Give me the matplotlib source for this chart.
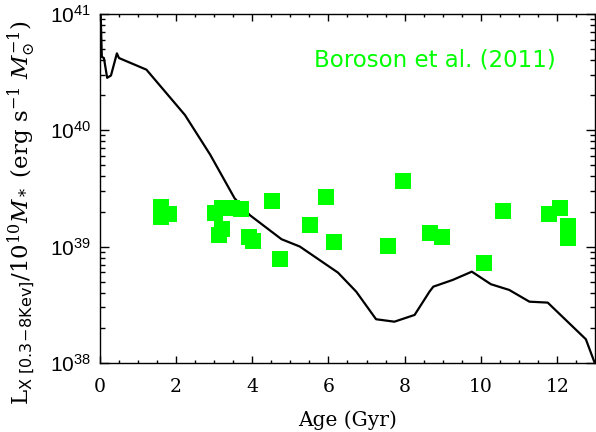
import matplotlib
matplotlib.use("Agg")
import matplotlib.pyplot as plt
from matplotlib.ticker import MultipleLocator, LogLocator, NullFormatter, FixedLocator, FixedFormatter
import numpy as np

# Model curve (age in Gyr, log10 Lx/M)
model_age = [0.03, 0.06, 0.115, 0.20, 0.30, 0.455, 0.51, 1.23, 2.24, 2.90, 3.54, 3.94,
             4.77, 5.25, 6.25, 6.73, 7.25, 7.73, 8.26, 8.65, 8.75, 9.26, 9.76,
             10.26, 10.74, 11.27, 11.75, 12.75, 12.97]
model_log = [41.0, 40.63, 40.62, 40.45, 40.47, 40.66, 40.62, 40.52, 40.13, 39.79, 39.415, 39.27,
             39.063, 39.0, 38.776, 38.612, 38.375, 38.354, 38.412, 38.612, 38.655, 38.713, 38.784,
             38.676, 38.627, 38.526, 38.518, 38.203, 38.01]

# Boroson et al. (2011) data points
obs_age = [1.62, 1.62, 1.82, 3.03, 3.22, 3.22, 3.13, 3.48, 3.72, 3.93, 4.03, 4.53, 4.74,
           5.53, 5.95, 6.14, 7.95, 7.55, 8.66, 8.97, 10.08, 10.58, 11.79, 12.08, 12.29, 12.29]
obs_lx = [2.17e39, 1.79e39, 1.91e39, 1.95e39, 2.15e39, 1.42e39, 1.26e39, 2.15e39, 2.11e39,
          1.20e39, 1.11e39, 2.48e39, 7.8e38, 1.54e39, 2.68e39, 1.10e39, 3.68e39, 1.01e39,
          1.31e39, 1.21e39, 7.2e38, 2.03e39, 1.91e39, 2.15e39, 1.51e39, 1.19e39]

xticks = [0, 2, 4, 6, 8, 10, 12]
yticks = [1e38, 1e39, 1e40, 1e41]
ytick_labels = [r'$\mathregular{10^{38}}$', r'$\mathregular{10^{39}}$',
                r'$\mathregular{10^{40}}$', r'$\mathregular{10^{41}}$']

plt.rcParams['mathtext.fontset'] = 'dejavuserif'

fig = plt.figure(figsize=(5.96, 4.32), dpi=100)
ax = fig.add_axes([0.167, 0.160, 0.832, 0.808])

ax.plot(model_age, 10 ** np.array(model_log), color='black', lw=1.6, zorder=2)
ax.plot(obs_age, obs_lx, linestyle='none', marker='s', ms=12.2, color='#00ff00',
        markeredgewidth=0, zorder=3)

ax.set_yscale('log')
ax.set_xlim(0, 13)
ax.set_ylim(1e38, 1e41)

ax.xaxis.set_major_locator(FixedLocator(xticks))
ax.xaxis.set_minor_locator(MultipleLocator(0.5))
ax.yaxis.set_major_locator(FixedLocator(yticks))
ax.yaxis.set_major_formatter(FixedFormatter(ytick_labels))
ax.yaxis.set_minor_locator(LogLocator(base=10, subs=np.arange(2, 10)))
ax.yaxis.set_minor_formatter(NullFormatter())

ax.tick_params(axis='both', which='both', direction='in', top=True, right=True, width=1.0)
ax.tick_params(axis='x', which='major', length=5, pad=11)
ax.tick_params(axis='x', which='minor', length=2.5)
ax.tick_params(axis='y', which='major', length=6.5, pad=6)
ax.tick_params(axis='y', which='minor', length=3.5)

for lab in ax.get_xticklabels():
    lab.set_fontfamily('DejaVu Serif')
    lab.set_fontsize(13.5)
for lab in ax.get_yticklabels():
    lab.set_fontfamily('Liberation Sans')
    lab.set_fontsize(15)

for sp in ax.spines.values():
    sp.set_linewidth(1.0)

ax.set_xlabel('Age (Gyr)', fontfamily='DejaVu Serif', fontsize=14.5, labelpad=10)
ax.set_ylabel(r'L$_{\mathsf{X\ [0.3\!-\!8Kev]}}$/10$^{10}$$M_*$ (erg s$^{-1}$ $M_{\odot}^{-1}$)',
              fontfamily='DejaVu Serif', fontsize=16.5)
ax.yaxis.set_label_coords(-0.124, 0.43)

ax.text(0.92, 0.868, 'Boroson et al. (2011)', transform=ax.transAxes, ha='right', va='center',
        color='#00ff00', fontfamily='DejaVu Sans', fontsize=16.5)

fig.savefig('out.png', dpi=100)
